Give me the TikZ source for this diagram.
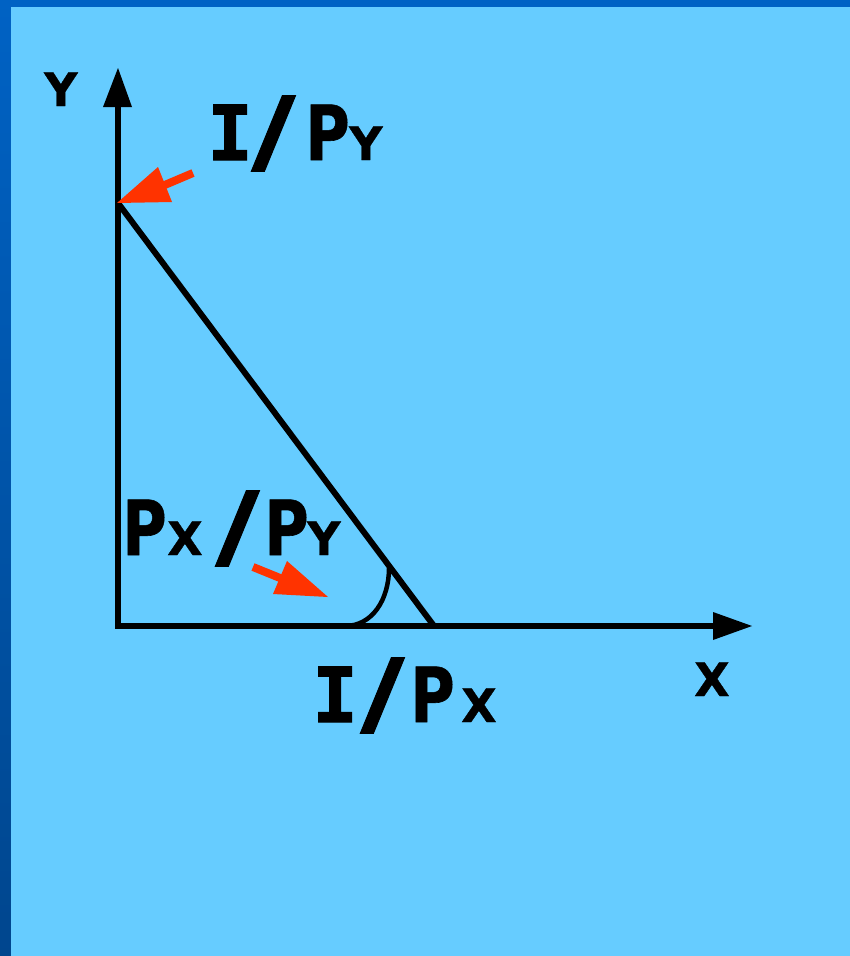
\documentclass[tikz,border=0pt]{standalone}
\usepackage{fontspec}
\setmainfont{DejaVu Sans}[BoldFeatures={FakeBold=0.8}]
\newfontfamily\serifI{DejaVu Sans Mono}[BoldFeatures={FakeBold=1.5}]
\begin{document}
\begin{tikzpicture}[x=1pt,y=-1pt,
  axisline/.style={line width=6pt},
  tip/.style={fill=black},
  redarrow/.style={fill=redc},
  glyph/.style={inner sep=0pt, anchor=base west},
  bigg/.style={glyph, font=\bfseries\fontsize{76}{76}\selectfont},
  smallg/.style={glyph, font=\bfseries\fontsize{46}{46}\selectfont},
]
\newcommand{\narrowP}{\scalebox{0.8}[1]{P}}
\newcommand{\wideI}{{\serifI\bfseries I}}
\newcommand{\wideSlash}{\scalebox{1.6}[1.22]{/}}
\definecolor{bgc}{HTML}{66CCFF}
\definecolor{bordtop}{HTML}{0062C4}
\definecolor{bordbot}{HTML}{00468E}
\definecolor{redc}{HTML}{FF3300}
\useasboundingbox (0,0) rectangle (850,956);
\shade[top color=bordtop, bottom color=bordbot] (0,0) rectangle (850,956);
\fill[bordtop] (0,0) rectangle (850,7);
\fill[bgc] (11,7) rectangle (850,956);
% coordinates
\coordinate (O) at (118,626);
\coordinate (Ytip) at (118,68);
\coordinate (Xtip) at (752,626);
\coordinate (A) at (118,203);
\coordinate (B) at (434,626);
% axes
\draw[axisline] (O) -- (118,105);
\draw[axisline] (115,626) -- (715,626);
\fill[tip] (Ytip) -- (103,107) -- (132,107) -- cycle;
\fill[tip] (Xtip) -- (713,612) -- (713,640) -- cycle;
% budget line
\draw[axisline] (A) -- (B);
% angle arc
\draw[line width=4.5pt] (345,626) .. controls (372,626) and (389,600) .. (389,568);
% red arrows
\draw[redc, line width=8pt] (193,173) -- (160,187);
\fill[redarrow] (117,203) -- (158,167) -- (172,202) -- cycle;
\draw[redc, line width=8pt] (253,567) -- (285,580);
\fill[redarrow] (328,597) -- (287,561) -- (273,594) -- cycle;
% label I/P_Y
\node[bigg] (t1a) at (207,160) {\wideI};
\node[bigg] (t1b) at (251,163) {\wideSlash};
\node[bigg] (t1c) at (305,160) {\narrowP};
\node[smallg] (t1d) at (349,160) {Y};
% label P_X/P_Y
\node[bigg] (t2a) at (122,555) {\narrowP};
\node[smallg] (t2b) at (167,555) {X};
\node[bigg] (t2c) at (215,558) {\wideSlash};
\node[bigg] (t2d) at (264,555) {\narrowP};
\node[smallg] (t2e) at (307,555) {Y};
% label I/P_X
\node[bigg] (t3a) at (312,722) {\wideI};
\node[bigg] (t3b) at (360,725) {\wideSlash};
\node[bigg] (t3c) at (410,722) {\narrowP};
\node[smallg] (t3d) at (461,722) {X};
% axis labels
\node[smallg] (lY) at (44,106) {Y};
\node[smallg] (lX) at (694,696) {X};
\end{tikzpicture}
\end{document}
